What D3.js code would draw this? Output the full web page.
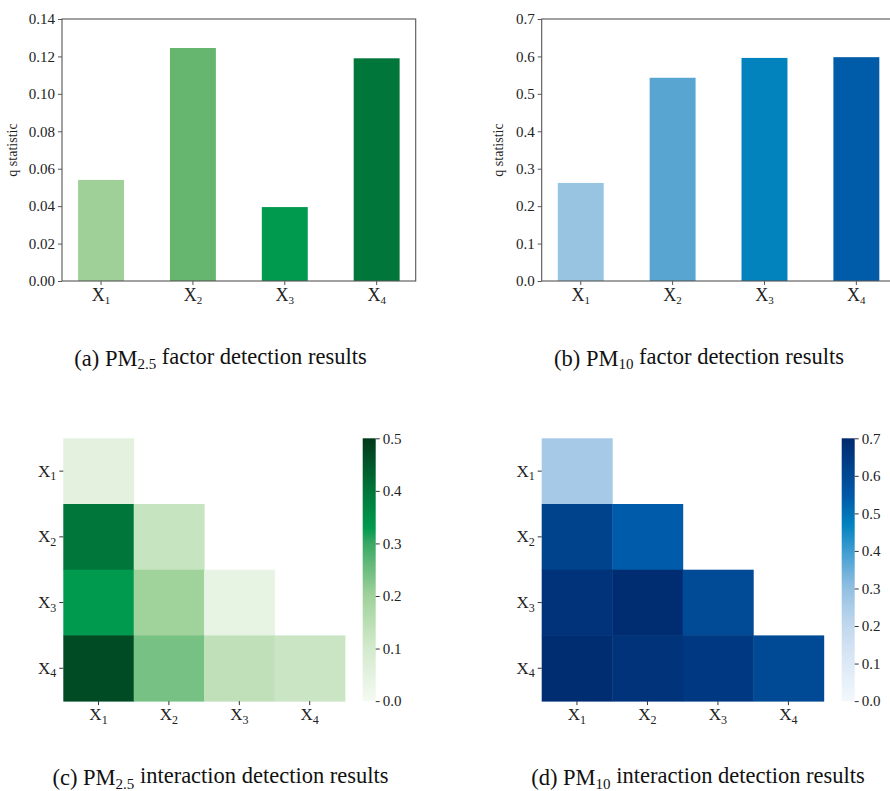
<!DOCTYPE html>
<html><head><meta charset="utf-8">
<script src="https://cdn.jsdelivr.net/npm/d3@7"></script>
<style>body{margin:0;background:#fff}svg{display:block}</style>
</head><body>
<script>
// ---------- data ----------
const factors = ["X1", "X2", "X3", "X4"];
const qPM25 = [0.054, 0.1245, 0.0395, 0.119];
const qPM10 = [0.262, 0.543, 0.596, 0.598];
const yTicksPM25 = [0, 0.02, 0.04, 0.06, 0.08, 0.10, 0.12, 0.14];
const yTicksPM10 = [0, 0.1, 0.2, 0.3, 0.4, 0.5, 0.6, 0.7];
// lower-triangular interaction q values (row i, col j<=i)
const interPM25 = [
  [0.054],
  [0.40, 0.1245],
  [0.33, 0.20, 0.0395],
  [0.47, 0.24, 0.14, 0.119]
];
const interPM10 = [
  [0.262],
  [0.62, 0.543],
  [0.67, 0.69, 0.596],
  [0.69, 0.67, 0.65, 0.598]
];
const cbTicksPM25 = [0, 0.1, 0.2, 0.3, 0.4, 0.5];
const cbTicksPM10 = [0, 0.1, 0.2, 0.3, 0.4, 0.5, 0.6, 0.7];
const captionLabels = ["(a)", "(b)", "(c)", "(d)"];
const captionPollutant = ["2.5", "10", "2.5", "10"];
const captionRest = [" factor detection results", " factor detection results",
  " interaction detection results", " interaction detection results"];

// ---------- styling ----------
const barColorsPM25 = ["#9ed098", "#66b66f", "#009a4e", "#00763a"];
const barColorsPM10 = ["#98c4e2", "#58a5d1", "#0283be", "#005ca9"];
const greenStops = [0, 0.1, 0.2, 0.3, 0.33, 0.4, 0.5];
const greenColors = ["#f5faf2", "#d3eacd", "#a0d29b", "#3aa864", "#009a4e", "#00763a", "#00391a"];
const blueStops = [0, 0.1, 0.2, 0.3, 0.4, 0.47, 0.55, 0.7];
const blueColors = ["#f3f8fd", "#dce9f6", "#c2d8ee", "#93c0e1", "#3f9cd1", "#0083c0", "#0058a8", "#002a6e"];

const FONT = "Liberation Serif";
const W = 890, H = 791;
const svg = d3.select("body").append("svg").attr("width", W).attr("height", H)
  .style("font-family", FONT);

function subLabel(textSel, main, sub, subSize, off) {
  textSel.text(null);
  textSel.append("tspan").text(main);
  textSel.append("tspan").attr("font-size", subSize).attr("dy", off).text(sub);
}

function styleText(sel, size) {
  sel.attr("font-size", size).attr("fill", "#222").attr("font-family", null)
    .style("font-family", FONT);
}

function barChart(x0, x1, y0, y1, values, colors, ticks, fmt, ylabX) {
  const g = svg.append("g");
  const x = d3.scaleBand().domain(factors).range([x0, x1]).paddingInner(0.5).paddingOuter(0.175);
  const y = d3.scaleLinear().domain([0, ticks[ticks.length - 1]]).range([y1, y0]);
  g.selectAll("rect.bar").data(values).join("rect").attr("class", "bar")
    .attr("x", (d, i) => x(factors[i])).attr("width", x.bandwidth())
    .attr("y", d => y(d)).attr("height", d => y1 - y(d))
    .attr("fill", (d, i) => colors[i]);
  g.append("rect").attr("x", x0).attr("y", y0).attr("width", x1 - x0).attr("height", y1 - y0)
    .attr("fill", "none").attr("stroke", "#555").attr("stroke-width", 1.1);
  const ya = g.append("g").attr("transform", `translate(${x0},0)`)
    .call(d3.axisLeft(y).tickValues(ticks).tickFormat(fmt).tickSize(4).tickPadding(3).tickSizeOuter(0));
  ya.attr("font-family", null);
  ya.select(".domain").remove();
  ya.selectAll("line").attr("stroke", "#555");
  styleText(ya.selectAll("text"), 15);
  const xa = g.append("g").attr("transform", `translate(0,${y1})`)
    .call(d3.axisBottom(x).tickSize(4).tickPadding(3).tickSizeOuter(0));
  xa.attr("font-family", null);
  xa.select(".domain").remove();
  xa.selectAll("line").attr("stroke", "#555");
  styleText(xa.selectAll("text"), 18);
  xa.selectAll("text").each(function (d) { subLabel(d3.select(this), "X", d.slice(1), 11, "0.25em"); });
  g.append("text").attr("transform", `translate(${ylabX},${(y0 + y1) / 2}) rotate(-90)`)
    .attr("text-anchor", "middle").attr("font-size", 14).attr("fill", "#222")
    .text("q statistic");
}

function heatmap(x0, y0, cw, ch, matrix, stops, colors, cbX, cbTicks) {
  const g = svg.append("g");
  const x = d3.scaleBand().domain(factors).range([x0, x0 + 4 * cw]);
  const y = d3.scaleBand().domain(factors).range([y0, y0 + 4 * ch]);
  const color = d3.scaleLinear().domain(stops).range(colors).clamp(true);
  const cells = [];
  matrix.forEach((row, i) => row.forEach((v, j) => cells.push({ r: factors[i], c: factors[j], v })));
  g.selectAll("rect.cell").data(cells).join("rect").attr("class", "cell")
    .attr("x", d => x(d.c)).attr("y", d => y(d.r))
    .attr("width", x.bandwidth() + 0.5).attr("height", y.bandwidth() + 0.5)
    .attr("fill", d => color(d.v));
  const ya = g.append("g").attr("transform", `translate(${x0},0)`)
    .call(d3.axisLeft(y).tickSize(4).tickPadding(3).tickSizeOuter(0));
  ya.attr("font-family", null);
  ya.select(".domain").remove();
  ya.selectAll("line").attr("stroke", "#333");
  styleText(ya.selectAll("text"), 17);
  ya.selectAll("text").each(function (d) { subLabel(d3.select(this), "X", d.slice(1), 12, "0.3em"); });
  const yb = y0 + 4 * ch;
  const xa = g.append("g").attr("transform", `translate(0,${yb})`)
    .call(d3.axisBottom(x).tickSize(4).tickPadding(3).tickSizeOuter(0));
  xa.attr("font-family", null);
  xa.select(".domain").remove();
  xa.selectAll("line").attr("stroke", "#333");
  styleText(xa.selectAll("text"), 17);
  xa.selectAll("text").each(function (d) { subLabel(d3.select(this), "X", d.slice(1), 12, "0.3em"); });
  // colorbar
  const max = cbTicks[cbTicks.length - 1];
  const cy = d3.scaleLinear().domain([0, max]).range([yb, y0]);
  const gid = "grad" + Math.round(cbX);
  const grad = svg.append("defs").append("linearGradient").attr("id", gid)
    .attr("x1", 0).attr("y1", 1).attr("x2", 0).attr("y2", 0);
  d3.range(0, 1.0001, 0.02).forEach(t => grad.append("stop")
    .attr("offset", t).attr("stop-color", color(t * max)));
  g.append("rect").attr("x", cbX).attr("y", y0).attr("width", 13).attr("height", yb - y0)
    .attr("fill", `url(#${gid})`);
  const ca = g.append("g").attr("transform", `translate(${cbX + 13},0)`)
    .call(d3.axisRight(cy).tickValues(cbTicks).tickFormat(d3.format(".1f")).tickSize(4).tickPadding(3).tickSizeOuter(0));
  ca.attr("font-family", null);
  ca.select(".domain").remove();
  ca.selectAll("line").attr("stroke", "#333");
  styleText(ca.selectAll("text"), 15);
}

function caption(i, cx, by) {
  const t = svg.append("text").attr("x", cx).attr("y", by).attr("text-anchor", "middle")
    .attr("font-size", 22.5).attr("fill", "#111");
  t.append("tspan").text(captionLabels[i] + " PM");
  t.append("tspan").attr("font-size", 15).attr("dy", "0.25em").text(captionPollutant[i]);
  t.append("tspan").attr("dy", "-0.25em").text(captionRest[i]);
}

barChart(62, 415.7, 19, 281, qPM25, barColorsPM25, yTicksPM25, d3.format(".2f"), 17);
barChart(541.7, 895.4, 19, 281, qPM10, barColorsPM10, yTicksPM10, d3.format(".1f"), 503);
heatmap(63.3, 438.3, 70.4, 65.7, interPM25, greenStops, greenColors, 362.7, cbTicksPM25);
heatmap(541.7, 438.3, 70.5, 65.7, interPM10, blueStops, blueColors, 841.7, cbTicksPM10);
caption(0, 220.5, 365.5);
caption(1, 699, 365.5);
caption(2, 220.5, 785);
caption(3, 698, 785);
</script>
</body></html>
